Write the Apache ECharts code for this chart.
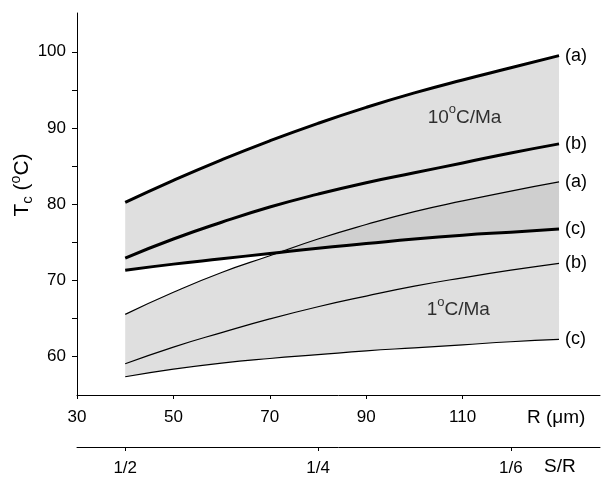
<!DOCTYPE html>
<html>
<head>
<meta charset="utf-8">
<script src="https://cdn.jsdelivr.net/npm/echarts@6/dist/echarts.min.js"></script>
<style>
  html, body { margin: 0; padding: 0; background: #fff; }
  #chart { width: 604px; height: 479px; }
</style>
</head>
<body>
<div id="chart"></div>
<script>
// grain radius R (um)
var rVals = [40, 50, 60, 70, 80, 90, 100, 110, 120, 130];
// 10 C/Ma (thick lines)
var fastA = [80.2, 83.1, 85.8, 88.3, 90.6, 92.7, 94.6, 96.3, 97.9, 99.5];
var fastB = [72.9, 75.4, 77.6, 79.6, 81.3, 82.8, 84.1, 85.4, 86.7, 87.9];
var fastC = [71.3, 72.1, 72.8, 73.5, 74.2, 74.8, 75.4, 75.9, 76.3, 76.7];
// 1 C/Ma (thin lines)
var slowA = [65.5, 68.4, 71.0, 73.2, 75.4, 77.3, 79.0, 80.4, 81.7, 82.9];
var slowB = [59.0, 61.2, 63.1, 64.9, 66.5, 67.9, 69.2, 70.3, 71.3, 72.2];
var slowC = [57.3, 58.3, 59.1, 59.7, 60.2, 60.7, 61.1, 61.5, 61.9, 62.2];

var xTicks = [30, 50, 70, 90, 110];
var yTicks = [60, 70, 80, 90, 100];
var yMinor = [60, 65, 70, 75, 80, 85, 90, 95, 100];
var srTicks = [40, 80, 120];
var srLabels = ['1/2', '1/4', '1/6'];

var FONT = '"Liberation Sans", Arial, Helvetica, sans-serif';

// value first so the stack runs on the y dimension
function pairs(ys) {
  return rVals.map(function (x, i) { return [ys[i], x]; });
}
function diff(top, bot, clip) {
  return rVals.map(function (x, i) {
    var d = top[i] - bot[i];
    if (clip && d < 0) d = 0;
    return [d, x];
  });
}

function band(stack, base, top, color, smooth, clip) {
  return [
    { type: 'line', stack: stack, data: pairs(base), encode: { x: 1, y: 0 }, symbol: 'none', silent: true,
      smooth: smooth, lineStyle: { width: 0 }, z: 1 },
    { type: 'line', stack: stack, data: diff(top, base, clip), encode: { x: 1, y: 0 }, symbol: 'none', silent: true,
      smooth: smooth, lineStyle: { width: 0 }, areaStyle: { color: color, opacity: 1 }, z: 1 }
  ];
}

function curve(ys, width, tag) {
  return {
    type: 'line', data: pairs(ys), encode: { x: 1, y: 0 }, symbol: 'none', smooth: true, silent: true, z: 5,
    lineStyle: { color: '#000', width: width },
    endLabel: { show: true, formatter: tag, distance: 6, color: '#000', fontSize: 18, fontFamily: FONT }
  };
}

var noteRich = {
  n: { fontSize: 19, fontFamily: FONT, color: '#000', lineHeight: 24, verticalAlign: 'bottom' },
  sup: { fontSize: 13, fontFamily: FONT, color: '#000', verticalAlign: 'top' }
};
var nameRich = {
  n: { fontSize: 21, fontFamily: FONT, fill: '#000', lineHeight: 26, verticalAlign: 'middle' },
  sup: { fontSize: 14, fontFamily: FONT, fill: '#000', verticalAlign: 'top' },
  sub: { fontSize: 15, fontFamily: FONT, fill: '#000', verticalAlign: 'bottom' }
};

var notes = [
  { name: '{n|10}{sup|o}{n|C/Ma}', value: [110.4, 91.7] },
  { name: '{n|1}{sup|o}{n|C/Ma}', value: [109.1, 66.4] }
];

var chart = echarts.init(document.getElementById('chart'));

var series = []
  .concat(band('s10', fastC, fastA, '#dfdfdf', true, false))
  .concat(band('s1', slowC, slowA, '#dfdfdf', true, false))
  .concat(band('ov', fastC, slowA, '#cfcfcf', false, true))
  .concat([
    curve(fastA, 3, '(a)'),
    curve(fastB, 3, '(b)'),
    curve(fastC, 3, '(c)'),
    curve(slowA, 1.2, '(a)'),
    curve(slowB, 1.2, '(b)'),
    curve(slowC, 1.2, '(c)'),
    {
      type: 'scatter', symbolSize: 0, silent: true, z: 6,
      data: notes,
      label: { show: true, position: 'inside', color: '#000',
        formatter: function (p) { return p.name; }, rich: noteRich }
    }
  ]);

chart.setOption({
  animation: false,
  backgroundColor: '#fff',
  grid: { left: 77, right: 4, top: 13, bottom: 84, containLabel: false },
  xAxis: [
    {
      type: 'value', min: 30, max: 138.5, position: 'bottom',
      axisLine: { show: true, lineStyle: { color: '#000', width: 1 } },
      axisTick: { show: true, length: 4, customValues: xTicks, lineStyle: { color: '#000' } },
      axisLabel: { customValues: xTicks, margin: 14, color: '#000', fontSize: 17, fontFamily: FONT },
      splitLine: { show: false }
    },
    {
      type: 'value', min: 30, max: 138.5, position: 'bottom', offset: 52,
      axisLine: { show: true, onZero: false, lineStyle: { color: '#000', width: 1 } },
      axisTick: { show: true, length: 4, customValues: srTicks, lineStyle: { color: '#000' } },
      axisLabel: {
        customValues: srTicks, margin: 13, color: '#000', fontSize: 17, fontFamily: FONT,
        formatter: function (v) { return srLabels[srTicks.indexOf(v)]; }
      },
      splitLine: { show: false }
    }
  ],
  yAxis: {
    type: 'value', min: 54.9, max: 105.1,
    axisLine: { show: true, lineStyle: { color: '#000', width: 1 } },
    axisTick: { show: true, length: 5, customValues: yMinor, lineStyle: { color: '#000' } },
    axisLabel: { customValues: yTicks, margin: 11, color: '#000', fontSize: 17, fontFamily: FONT },
    splitLine: { show: false }
  },
  graphic: [
    {
      type: 'text', x: 22, y: 185, rotation: Math.PI / 2,
      style: {
        text: '{n|T}{sub|c}{n| (}{sup|o}{n|C)}', rich: nameRich,
        align: 'center', verticalAlign: 'middle'
      }
    },
    {
      type: 'text', left: 527, top: 408,
      style: { text: 'R (\u03bcm)', fontSize: 19, fontFamily: FONT, fill: '#000' }
    },
    {
      type: 'text', left: 544, top: 457,
      style: { text: 'S/R', fontSize: 19, fontFamily: FONT, fill: '#000' }
    }
  ],
  series: series
});
</script>
</body>
</html>
